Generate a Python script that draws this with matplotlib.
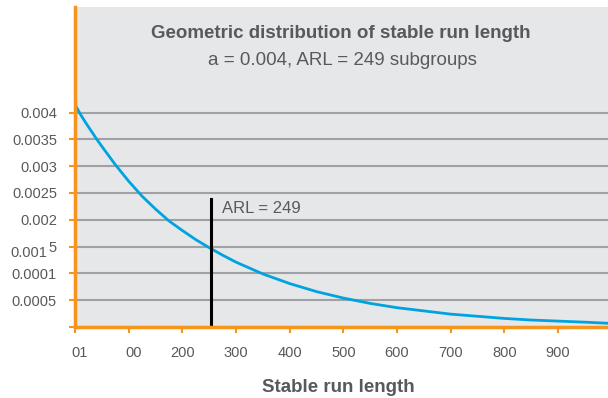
import matplotlib.pyplot as plt
import matplotlib.transforms as mtransforms

plt.rcParams['font.family'] = ['Liberation Sans', 'DejaVu Sans']

# stable run length vs probability
run_length = [0, 10, 20, 30, 40, 50, 75, 100, 125, 150, 175, 200, 225, 250, 275, 300, 350,
              400, 450, 500, 550, 600, 650, 700, 750, 800, 850, 900, 950, 993]
probability = [0.00415, 0.00397, 0.00381, 0.00366, 0.00351, 0.00337, 0.00303, 0.00272,
               0.00244, 0.00220, 0.00198, 0.00180, 0.00163, 0.00148, 0.00134, 0.00121,
               0.00099, 0.00081, 0.00066, 0.00054, 0.00044, 0.00036, 0.00030, 0.00024,
               0.00020, 0.00016, 0.00013, 0.00011, 0.00009, 0.00007]

arl_x = 253
arl_top = 0.00239

y_ticks = [0, 0.0005, 0.001, 0.0015, 0.002, 0.0025, 0.003, 0.0035, 0.004]
y_labels = ['', '0.0005', '0.0001', '', '0.002', '0.0025', '0.003', '0.0035', '0.004']
x_ticks = [0, 100, 200, 300, 400, 500, 600, 700, 800, 900]
x_labels = ['01', '00', '200', '300', '400', '500', '600', '700', '800', '900']

orange = '#F7941D'
grey_text = '#58595B'

fig = plt.figure(figsize=(6.08, 3.98), dpi=100)
ax = fig.add_axes([75 / 608, 1 - 327 / 398, 1 - 75 / 608, 320 / 398])
ax.set_facecolor('#E6E7E8')

for yv in y_ticks[1:]:
    ax.axhline(yv, color='#9FA1A4', lw=1.5, zorder=1)

ax.plot(run_length, probability, color='#00A3E0', lw=2.0, zorder=3)
ax.plot([arl_x, arl_x], [0, arl_top], color='black', lw=2.2, zorder=4)
ax.text(274, 0.00213, 'ARL = 249', fontsize=12, color=grey_text, va='baseline')

ax.set_xlim(0, 993)
ax.set_ylim(0, 0.00597)

ax.set_yticks(y_ticks)
ax.set_yticklabels(y_labels)
ax.set_xticks(x_ticks)
# first two labels are drawn by hand, nudged right of their ticks
ax.set_xticklabels([''] * 2 + x_labels[2:])
xax = ax.get_xaxis_transform()
for xv, lbl, dx in zip(x_ticks[:2], x_labels[:2], [0.05, 0.045]):
    ax.text(xv, 0, lbl, fontsize=10.5, color=grey_text, ha='center', va='center',
            transform=xax + mtransforms.ScaledTranslation(dx, -0.26, fig.dpi_scale_trans))

# the odd "0.001" + raised "5" label at 0.0015
yax = ax.get_yaxis_transform()
ax.text(0, 0.0015, '0.001', fontsize=10.5, color=grey_text, ha='right', va='center',
        transform=yax + mtransforms.ScaledTranslation(-0.28, -0.06, fig.dpi_scale_trans))
ax.text(0, 0.0015, '5', fontsize=10.5, color=grey_text, ha='right', va='center',
        transform=yax + mtransforms.ScaledTranslation(-0.18, -0.01, fig.dpi_scale_trans))

ax.tick_params(axis='both', colors=orange, width=1.5, length=4, labelsize=10.5,
               labelcolor=grey_text)
ax.tick_params(axis='y', pad=9)
ax.tick_params(axis='x', pad=9.5)

for side in ['top', 'right']:
    ax.spines[side].set_visible(False)
for side in ['left', 'bottom']:
    ax.spines[side].set_color(orange)
    ax.spines[side].set_linewidth(2.5)
    ax.spines[side].set_zorder(5)

fig.text(341 / 608, 1 - 38 / 398, 'Geometric distribution of stable run length',
         ha='center', va='baseline', fontsize=13.5, fontweight='bold', color=grey_text)
fig.text(342 / 608, 1 - 65 / 398, 'a = 0.004, ARL = 249 subgroups',
         ha='center', va='baseline', fontsize=13.5, color=grey_text)
fig.text(338 / 608, 1 - 392 / 398, 'Stable run length',
         ha='center', va='baseline', fontsize=13.5, fontweight='bold', color=grey_text)

fig.savefig('out.png', dpi=100)
